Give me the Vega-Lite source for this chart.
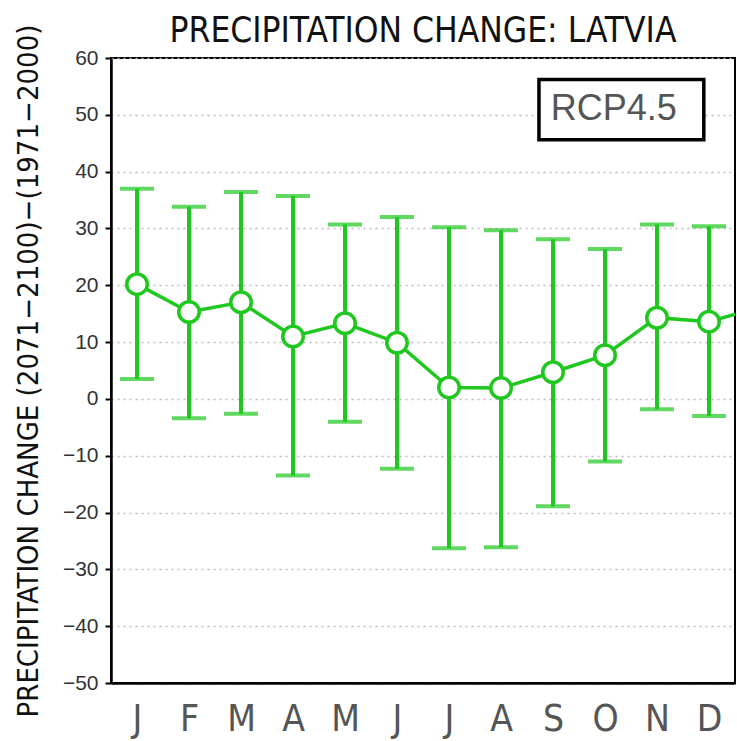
{
  "$schema": "https://vega.github.io/schema/vega-lite/v6.json",
  "width": 624,
  "height": 625,
  "autosize": {"type": "none"},
  "padding": {"left": 111, "top": 58, "right": 2, "bottom": 58},
  "background": "white",
  "title": {
    "text": "PRECIPITATION CHANGE: LATVIA",
    "font": "Liberation Sans Narrow, DejaVu Sans Condensed, sans-serif",
    "fontSize": 35,
    "fontWeight": "normal",
    "color": "#111",
    "anchor": "middle",
    "frame": "group",
    "offset": 0,
    "dy": 25
  },
  "config": {
    "view": {"stroke": "black", "strokeWidth": 2},
    "axis": {
      "labelFont": "Liberation Sans, sans-serif",
      "titleFont": "Liberation Sans Narrow, DejaVu Sans Condensed, sans-serif",
      "domainColor": "black",
      "domainWidth": 2.5
    }
  },
  "datasets": {
    "monthly": [
      {"m": 1, "month": "J", "mean": 20.2, "lo": 3.5, "hi": 37.0},
      {"m": 2, "month": "F", "mean": 15.3, "lo": -3.4, "hi": 33.8},
      {"m": 3, "month": "M", "mean": 17.0, "lo": -2.6, "hi": 36.4},
      {"m": 4, "month": "A", "mean": 11.0, "lo": -13.5, "hi": 35.7},
      {"m": 5, "month": "M", "mean": 13.3, "lo": -4.0, "hi": 30.7},
      {"m": 6, "month": "J", "mean": 9.9, "lo": -12.3, "hi": 32.0},
      {"m": 7, "month": "J", "mean": 2.0, "lo": -26.3, "hi": 30.2},
      {"m": 8, "month": "A", "mean": 1.9, "lo": -26.1, "hi": 29.7},
      {"m": 9, "month": "S", "mean": 4.7, "lo": -18.9, "hi": 28.1},
      {"m": 10, "month": "O", "mean": 7.7, "lo": -11.0, "hi": 26.4},
      {"m": 11, "month": "N", "mean": 14.3, "lo": -1.8, "hi": 30.7},
      {"m": 12, "month": "D", "mean": 13.6, "lo": -3.0, "hi": 30.4}
    ],
    "trend": [
      {"m": 1, "mean": 20.2},
      {"m": 2, "mean": 15.3},
      {"m": 3, "mean": 17.0},
      {"m": 4, "mean": 11.0},
      {"m": 5, "mean": 13.3},
      {"m": 6, "mean": 9.9},
      {"m": 7, "mean": 2.0},
      {"m": 8, "mean": 1.9},
      {"m": 9, "mean": 4.7},
      {"m": 10, "mean": 7.7},
      {"m": 11, "mean": 14.3},
      {"m": 12, "mean": 13.6},
      {"m": 13, "mean": 16.2}
    ],
    "scenario": [
      {"label": "RCP4.5", "x1": 8.73, "x2": 11.9, "y1": 45.6, "y2": 56.2, "xc": 10.17, "yc": 51.0}
    ]
  },
  "layer": [
    {
      "data": {"name": "monthly"},
      "mark": {"type": "rule", "color": "#1ec81e", "strokeWidth": 4},
      "encoding": {
        "x": {
          "field": "m",
          "type": "quantitative",
          "scale": {"domain": [0.5, 12.5], "nice": false, "zero": false},
          "axis": {
            "values": [1, 2, 3, 4, 5, 6, 7, 8, 9, 10, 11, 12],
            "labelExpr": "['J','F','M','A','M','J','J','A','S','O','N','D'][datum.value - 1]",
            "title": null,
            "ticks": false,
            "grid": false,
            "labelFont": "Liberation Sans Narrow, DejaVu Sans Condensed, sans-serif",
            "labelFontSize": 37,
            "labelColor": "#555",
            "labelPadding": 18
          }
        },
        "y": {
          "field": "lo",
          "type": "quantitative",
          "scale": {"domain": [-50, 60], "nice": false},
          "axis": {
            "values": [-50, -40, -30, -20, -10, 0, 10, 20, 30, 40, 50, 60],
            "title": "PRECIPITATION CHANGE (2071−2100)−(1971−2000)",
            "titleFontSize": 29,
            "titleFontWeight": "normal",
            "titleColor": "#111",
            "titlePadding": 19,
            "labelFontSize": 21,
            "labelColor": "#333",
            "labelPadding": 7,
            "tickSize": 6,
            "tickColor": "black",
            "tickWidth": 2,
            "grid": true,
            "gridColor": "#bbbbbb",
            "gridDash": [2, 4],
            "gridWidth": 1.5
          }
        },
        "y2": {"field": "hi"}
      }
    },
    {
      "data": {"name": "monthly"},
      "mark": {"type": "tick", "orient": "horizontal", "color": "#1ec81e", "size": 34, "thickness": 4},
      "encoding": {
        "x": {"field": "m", "type": "quantitative"},
        "y": {"field": "lo", "type": "quantitative"}
      }
    },
    {
      "data": {"name": "monthly"},
      "mark": {"type": "tick", "orient": "horizontal", "color": "#1ec81e", "size": 34, "thickness": 4},
      "encoding": {
        "x": {"field": "m", "type": "quantitative"},
        "y": {"field": "hi", "type": "quantitative"}
      }
    },
    {
      "data": {"name": "trend"},
      "mark": {"type": "line", "color": "#1ec81e", "strokeWidth": 3.5, "clip": true},
      "encoding": {
        "x": {"field": "m", "type": "quantitative"},
        "y": {"field": "mean", "type": "quantitative"}
      }
    },
    {
      "data": {"name": "monthly"},
      "mark": {"type": "point", "shape": "circle", "filled": false, "fill": "white", "fillOpacity": 1, "stroke": "#1ec81e", "strokeWidth": 3.5, "size": 420, "opacity": 1},
      "encoding": {
        "x": {"field": "m", "type": "quantitative"},
        "y": {"field": "mean", "type": "quantitative"}
      }
    },
    {
      "data": {"name": "scenario"},
      "mark": {"type": "rect", "fill": "white", "stroke": "black", "strokeWidth": 3.5},
      "encoding": {
        "x": {"field": "x1", "type": "quantitative"},
        "x2": {"field": "x2"},
        "y": {"field": "y1", "type": "quantitative"},
        "y2": {"field": "y2"}
      }
    },
    {
      "data": {"name": "scenario"},
      "mark": {"type": "text", "font": "Liberation Sans, sans-serif", "fontSize": 36, "color": "#555", "align": "center", "baseline": "middle"},
      "encoding": {
        "x": {"field": "xc", "type": "quantitative"},
        "y": {"field": "yc", "type": "quantitative"},
        "text": {"field": "label"}
      }
    }
  ]
}
